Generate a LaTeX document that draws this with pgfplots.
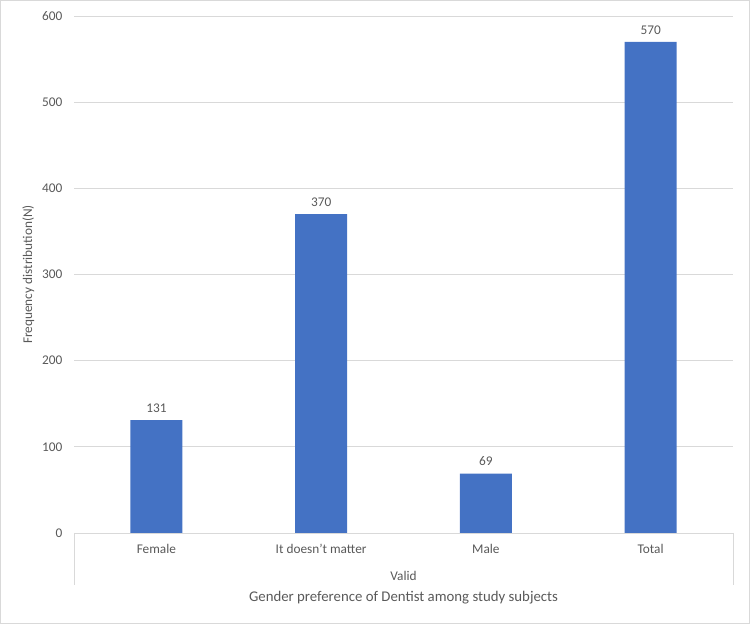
\documentclass[border=0pt]{standalone}
\usepackage{fontspec}
\setmainfont{Carlito}
\usepackage{pgfplots}
\pgfplotsset{compat=1.18}
\definecolor{barblue}{HTML}{4472C4}
\definecolor{txtgray}{RGB}{89,89,89}
\definecolor{gridgray}{RGB}{217,217,217}
\begin{document}
\begin{tikzpicture}[x=1pt,y=1pt]
\draw[gridgray, line width=1pt] (0.5,0.5) rectangle (749.5,623.5);
\begin{axis}[
  at={(74pt,91pt)}, anchor=south west,
  width=659pt, height=517pt, scale only axis,
  ymin=0, ymax=600, ytick distance=100,
  xmin=-0.5, xmax=3.5,
  xtick={0,1,2,3},
  xticklabels={Female, It doesn’t matter, Male, Total},
  ybar, bar width=52pt,
  ymajorgrids, grid style={gridgray, line width=0.75pt},
  axis lines*=left,
  y axis line style={draw=none},
  x axis line style={gridgray, line width=0.75pt},
  major tick length=0pt,
  tick label style={text=txtgray, font=\fontsize{13.3}{16}\selectfont},
  /pgf/number format/assume math mode=true,
  yticklabel style={xshift=-8pt},
  xticklabel style={yshift=-8pt},
  ylabel={Frequency distribution(N)},
  ylabel style={text=txtgray, font=\fontsize{13.3}{16}\selectfont, yshift=1pt},
  nodes near coords,
  nodes near coords style={text=txtgray, font=\fontsize{13.3}{16}\selectfont, yshift=4pt},
  clip=false,
]
\addplot[fill=barblue, draw=none] coordinates {(0,131) (1,370) (2,69) (3,570)};
\draw[gridgray, line width=0.75pt] (rel axis cs:0,0) -- ++(0pt,-52pt);
\draw[gridgray, line width=0.75pt] (rel axis cs:1,0) -- ++(0pt,-52pt);
\node[text=txtgray, font=\fontsize{13.3}{16}\selectfont] at ([yshift=-43pt]rel axis cs:0.5,0) {Valid};
\node[text=txtgray, font=\fontsize{14.8}{18}\selectfont] at ([yshift=-65pt]rel axis cs:0.5,0) {Gender preference of Dentist among study subjects};
\end{axis}
\end{tikzpicture}
\end{document}
